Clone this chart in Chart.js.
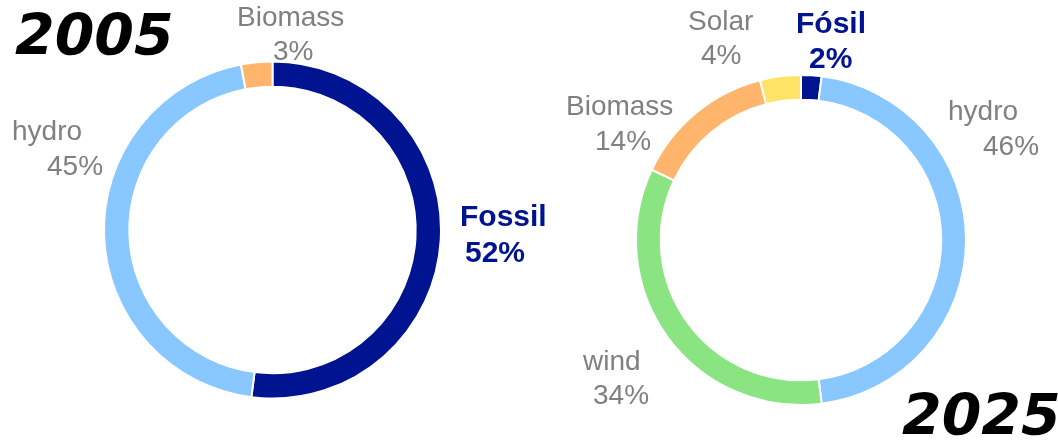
<!DOCTYPE html>
<html>
<head>
<meta charset="utf-8">
<script src="https://cdn.jsdelivr.net/npm/chart.js@4/dist/chart.umd.min.js"></script>
<style>
  html, body { margin: 0; padding: 0; background: #ffffff; }
  #wrap { position: relative; width: 1058px; height: 447px; overflow: hidden; }
  canvas { position: absolute; left: 0; top: 0; }
</style>
</head>
<body>
<div id="wrap">
  <canvas id="c2005" width="1058" height="447"></canvas>
  <canvas id="c2025" width="1058" height="447"></canvas>
</div>
<script>
// ---- data ----
const years = ['2005', '2025'];

const categories2005 = ['Fossil', 'hydro', 'Biomass'];
const values2005 = [52, 45, 3];

const categories2025 = ['Fósil', 'hydro', 'wind', 'Biomass', 'Solar'];
const values2025 = [2, 46, 34, 14, 4];

// ---- styles ----
const NAVY = '#001391';
const LIGHTBLUE = '#88C7FF';
const ORANGE = '#FFB66C';
const GREEN = '#8AE482';
const YELLOW = '#FFE366';
const GRAY = '#808080';

const colors2005 = [NAVY, LIGHTBLUE, ORANGE];
const colors2025 = [NAVY, LIGHTBLUE, GREEN, ORANGE, YELLOW];

const normalFont = '28px "Liberation Sans", Arial, sans-serif';
const boldFont = 'bold 30px "Liberation Sans", Arial, sans-serif';
const titleFont = 'bold oblique 57px "DejaVu Sans", sans-serif';

// label placement (left x, baseline y for name line and value line), per category index
const labelPos2005 = [
  { nx: 460, ny: 226, vx: 465, vy: 262, bold: true },
  { nx: 12, ny: 140, vx: 47, vy: 175 },
  { nx: 237, ny: 26, vx: 273, vy: 60 }
];
const labelPos2025 = [
  { nx: 796, ny: 33, vx: 809, vy: 68, bold: true },
  { nx: 948, ny: 120, vx: 983, vy: 155 },
  { nx: 583, ny: 370, vx: 593, vy: 404 },
  { nx: 566, ny: 115, vx: 595, vy: 150 },
  { nx: 688, ny: 30, vx: 701, vy: 64 }
];

function labelPlugin(cats, vals, pos, title, titlePos) {
  return {
    id: 'labels_' + title,
    afterDraw(chart) {
      const ctx = chart.ctx;
      ctx.save();
      ctx.textAlign = 'left';
      ctx.textBaseline = 'alphabetic';
      cats.forEach((c, i) => {
        const p = pos[i];
        ctx.font = p.bold ? boldFont : normalFont;
        ctx.fillStyle = p.bold ? NAVY : GRAY;
        ctx.fillText(c, p.nx, p.ny);
        ctx.fillText(vals[i] + '%', p.vx, p.vy);
      });
      ctx.font = titleFont;
      ctx.fillStyle = '#000000';
      ctx.fillText(title, titlePos.x, titlePos.y);
      ctx.restore();
    }
  };
}

function makeChart(id, cats, vals, cols, padding, pos, title, titlePos) {
  return new Chart(document.getElementById(id), {
    type: 'doughnut',
    data: {
      labels: cats,
      datasets: [{
        data: vals,
        backgroundColor: cols,
        borderColor: '#ffffff',
        borderWidth: 2,
        hoverOffset: 0
      }]
    },
    options: {
      responsive: false,
      animation: false,
      events: [],
      cutout: '85%',
      rotation: 0,
      layout: { padding: padding },
      plugins: {
        legend: { display: false },
        tooltip: { enabled: false },
        title: { display: false }
      }
    },
    plugins: [labelPlugin(cats, vals, pos, title, titlePos)]
  });
}

makeChart('c2005', categories2005, values2005, colors2005,
  { left: 103, right: 616, top: 60.5, bottom: 47.5 },
  labelPos2005, years[0], { x: 15, y: 55 });

makeChart('c2025', categories2025, values2025, colors2025,
  { left: 635, right: 91, top: 74, bottom: 41 },
  labelPos2025, years[1], { x: 902, y: 435 });
</script>
</body>
</html>
